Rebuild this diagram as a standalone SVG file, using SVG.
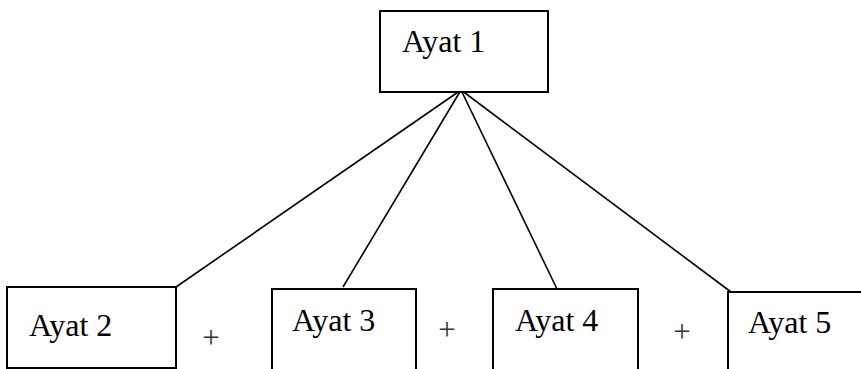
<svg xmlns="http://www.w3.org/2000/svg" width="861" height="369" viewBox="0 0 861 369">
<style>
.box{fill:#fff;stroke:#000;stroke-width:2}
.lbl{font-family:'Liberation Serif','Times New Roman',serif;font-size:32px;fill:#000}
.plus{font-family:'Liberation Serif','Times New Roman',serif;font-size:31px;fill:#333}
.conn{stroke:#000;stroke-width:1.6;fill:none}
</style>
<rect width="861" height="369" fill="#fff"/>
<g id="connectors">
<line class="conn" x1="461" y1="90" x2="176" y2="287"/>
<line class="conn" x1="461" y1="90" x2="343" y2="287"/>
<line class="conn" x1="461" y1="90" x2="557" y2="289"/>
<line class="conn" x1="461" y1="90" x2="731" y2="292"/>
</g>
<g id="ayat1">
<rect class="box" x="380" y="11" width="168" height="81"/>
<text class="lbl" x="402" y="52">Ayat 1</text>
</g>
<g id="ayat2">
<path class="box" d="M7,368 V287 H176 V368 Z"/>
<text class="lbl" x="29" y="336">Ayat 2</text>
</g>
<g id="ayat3">
<path class="box" d="M272,370 V289 H416 V370"/>
<text class="lbl" x="292" y="331">Ayat 3</text>
</g>
<g id="ayat4">
<path class="box" d="M493,370 V289 H638 V370"/>
<text class="lbl" x="515" y="331">Ayat 4</text>
</g>
<g id="ayat5">
<path class="box" d="M728,370 V292 H862"/>
<text class="lbl" x="748" y="333">Ayat 5</text>
</g>
<g id="plus-signs">
<text class="plus" x="211" y="348" text-anchor="middle">+</text>
<text class="plus" x="447" y="340" text-anchor="middle">+</text>
<text class="plus" x="682" y="342" text-anchor="middle">+</text>
</g>
</svg>
